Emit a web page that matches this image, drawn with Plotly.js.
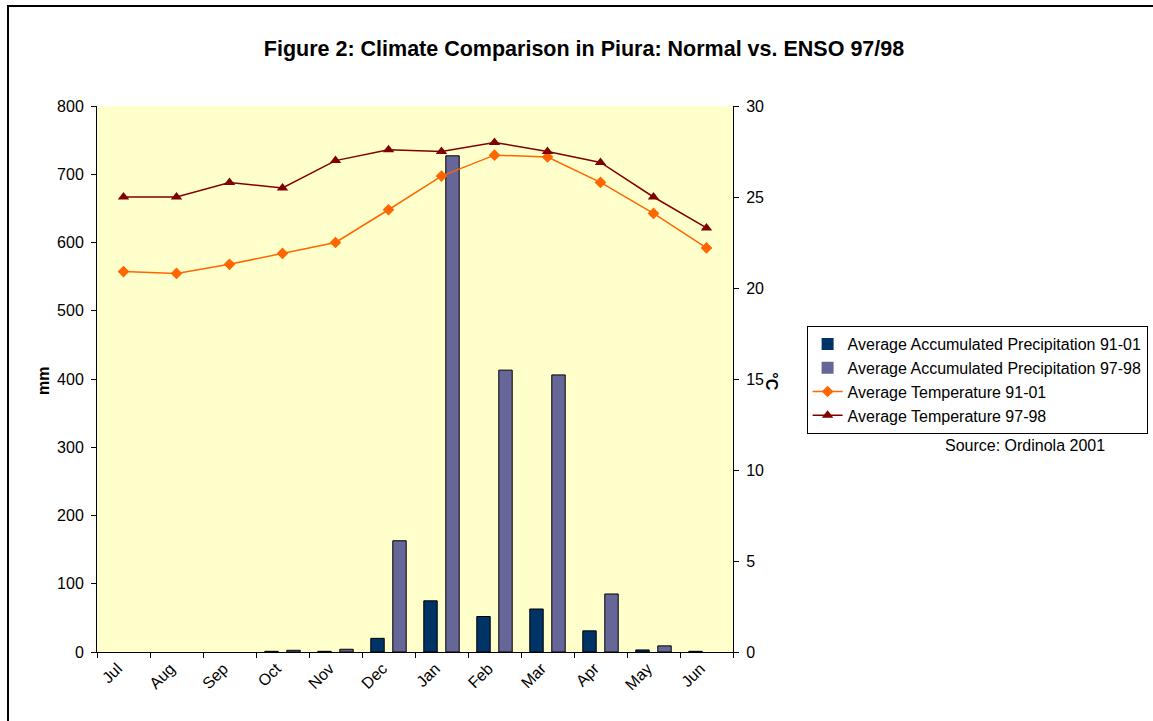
<!DOCTYPE html>
<html>
<head>
<meta charset="utf-8">
<script src="https://cdn.plot.ly/plotly-3.0.1.min.js"></script>
<style>
  html, body { margin: 0; padding: 0; overflow: hidden; background: #fff; }
  #chart { width: 1153px; height: 721px; }
  #frame { position: absolute; left: 7px; top: 5px; width: 1300px; height: 900px;
           border: 2px solid #000; pointer-events: none; box-sizing: border-box; }
</style>
</head>
<body>
<div id="chart"></div>
<div id="frame"></div>
<script>
const months = ["Jul","Aug","Sep","Oct","Nov","Dec","Jan","Feb","Mar","Apr","May","Jun"];
const precip9101 = [0, 0, 0, 1, 1, 20, 75, 52, 63, 31, 3, 1];
const precip9798 = [0, 0, 0, 2.5, 4, 163, 727, 413, 406, 85, 9, 0];
const temp9101 = [20.9, 20.8, 21.3, 21.9, 22.5, 24.3, 26.15, 27.3, 27.2, 25.8, 24.1, 22.2];
const temp9798 = [25.0, 25.0, 25.8, 25.5, 27.0, 27.6, 27.5, 28.0, 27.5, 26.9, 25.0, 23.3];
const mmTicks = [0, 100, 200, 300, 400, 500, 600, 700, 800];
const cTicks = [0, 5, 10, 15, 20, 25, 30];

const FONT = "Liberation Sans, Arial, sans-serif";
const outline = vals => vals.map(v => (v > 0 ? 1 : 0));

const traces = [
  { type: "bar", name: "Average Accumulated Precipitation 91-01", x: months, y: precip9101,
    marker: { color: "#003366", line: { color: "#000000", width: outline(precip9101) } } },
  { type: "bar", name: "Average Accumulated Precipitation 97-98", x: months, y: precip9798,
    marker: { color: "#666699", line: { color: "#000000", width: outline(precip9798) } } },
  { type: "scatter", mode: "lines+markers", name: "Average Temperature 91-01", x: months, y: temp9101,
    yaxis: "y2", line: { color: "#FF6600", width: 1.5 },
    marker: { symbol: "diamond", size: 9, color: "#FF6600" } },
  { type: "scatter", mode: "lines+markers", name: "Average Temperature 97-98", x: months, y: temp9798,
    yaxis: "y2", line: { color: "#800000", width: 1.5 },
    marker: { symbol: "triangle-up", size: 10, color: "#800000" } }
];

const layout = {
  width: 1153, height: 721,
  margin: { l: 96.5, r: 419.7, t: 106, b: 69, pad: 0, autoexpand: false },
  paper_bgcolor: "rgba(0,0,0,0)",
  plot_bgcolor: "#FFFFCC",
  font: { family: FONT, size: 16, color: "#000" },
  barmode: "group",
  bargap: 0.17,
  bargroupgap: 0.39,
  showlegend: true,
  title: { text: "<b>Figure 2: Climate Comparison in Piura: Normal vs. ENSO 97/98</b>",
           font: { family: FONT, size: 21.5, color: "#000" },
           xref: "container", x: 0.5065, xanchor: "center",
           yref: "container", y: 1 - 48/721, yanchor: "middle" },
  xaxis: {
    type: "category", range: [-0.5, months.length - 0.5], tickson: "boundaries",
    ticks: "outside", ticklen: 5, ticklabelshift: -6,
    tickcolor: "#000", tickangle: -45, showline: true, linecolor: "#000", linewidth: 1,
    showgrid: false, zeroline: false, tickfont: { family: FONT, size: 16 }, automargin: false
  },
  yaxis: {
    range: [0, 800], tickvals: mmTicks, ticks: "outside", ticklen: 5, tickcolor: "#000",
    showline: true, linecolor: "#000", linewidth: 1, showgrid: false, zeroline: false,
    tickfont: { family: FONT, size: 16 }, ticklabelstandoff: 4, automargin: false
  },
  yaxis2: {
    overlaying: "y", side: "right", range: [0, 30], tickvals: cTicks,
    ticks: "outside", ticklen: 5, tickcolor: "#000",
    showline: true, linecolor: "#000", linewidth: 1, showgrid: false, zeroline: false,
    tickfont: { family: FONT, size: 16 }, ticklabelstandoff: 4, automargin: false
  },
  legend: {
    x: (807 - 96.5) / 636.8, xanchor: "left", y: (652 - 326) / 546, yanchor: "top",
    bordercolor: "#000", borderwidth: 1, bgcolor: "#fff",
    font: { family: FONT, size: 16 }, tracegroupgap: 0, traceorder: "normal",
    itemwidth: 30
  },
  annotations: [
    { text: "<b>mm</b>", xref: "paper", yref: "paper", x: (42.5 - 96.5) / 636.8, y: (652 - 381) / 546,
      xanchor: "center", yanchor: "middle",
      textangle: -90, showarrow: false, font: { family: FONT, size: 16 } },
    { text: "<b>°C</b>", xref: "paper", yref: "paper", x: (772 - 96.5) / 636.8, y: (652 - 381) / 546,
      xanchor: "center", yanchor: "middle",
      textangle: 90, showarrow: false, font: { family: FONT, size: 16 } },
    { text: "Source: Ordinola 2001", xref: "paper", yref: "paper", x: (1026 - 96.5) / 636.8,
      y: (652 - 445) / 546, xanchor: "center", yanchor: "middle", showarrow: false,
      font: { family: FONT, size: 16 } }
  ]
};

Plotly.newPlot("chart", traces, layout, { displayModeBar: false, staticPlot: true });
</script>
</body>
</html>
